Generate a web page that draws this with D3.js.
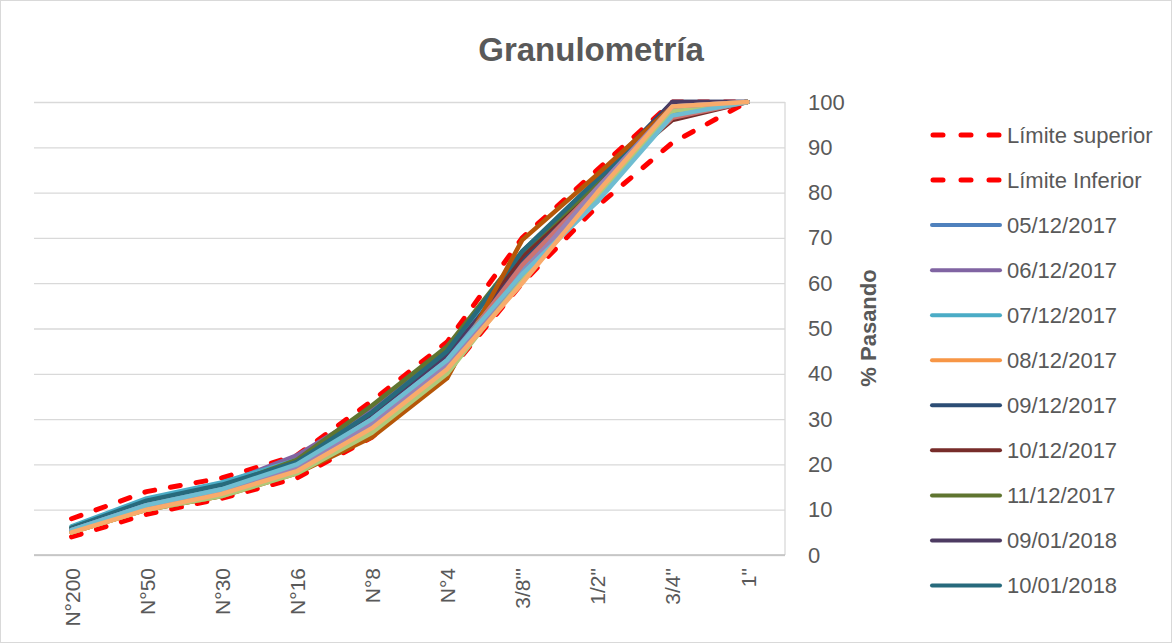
<!DOCTYPE html>
<html><head><meta charset="utf-8">
<script src="https://cdn.jsdelivr.net/npm/d3@7"></script>
<style>
body{margin:0;background:#fff}
svg{display:block}
text{font-family:"Liberation Sans",Arial,sans-serif;fill:#595959}
</style>
</head><body>
<svg id="chart" width="1172" height="643"></svg>
<script>
// ---------- data ----------
const categories = ["N°200","N°50","N°30","N°16","N°8","N°4","3/8\"'","1/2\"","3/4\"","1\""];
const yTicks = [0,10,20,30,40,50,60,70,80,90,100];
const limiteSuperior = [8, 14, 17, 22, 34, 47, 70, 85, 100, 100];
const limiteInferior = [4, 9, 12.5, 17, 26, 40, 60, 77, 91, 100];
const seriesNames = ["05/12/2017","06/12/2017","07/12/2017","08/12/2017","09/12/2017","10/12/2017","11/12/2017","09/01/2018","10/01/2018"];
const s05122017 = [5.5, 11, 14.5, 20, 30, 43, 63, 78, 98, 100];
const s06122017 = [6, 11.5, 15.5, 22, 32, 46, 65, 81, 99, 100];
const s07122017 = [6.3, 12.5, 16, 21, 31, 45, 64, 79, 97, 100];
const s08122017 = [5, 10, 13, 18.5, 27.5, 41, 61, 80, 99, 100];
const s09122017 = [5.5, 11, 14, 19.5, 30, 43, 65, 83, 100, 100];
const s10122017 = [5.5, 11, 14.5, 20, 29, 42, 66, 82, 96, 100];
const s11122017 = [6, 11.5, 15, 21, 33, 46, 67, 82, 99, 100];
const s09012018 = [5.5, 11, 14.5, 20.5, 31, 44, 64, 81, 100, 100];
const s10012018 = [6, 12, 15.5, 20.5, 31.5, 45, 67, 83, 98, 100];
// further series drawn in the plot but cut from the legend
const extra1 = [5, 10, 13, 18, 26, 39, 69.5, 84, 99, 100];
const extra2 = [5.5, 11, 14.5, 19.5, 30, 43, 63, 80, 99, 100];
const extra3 = [5.5, 10.5, 14, 19.5, 29, 42, 64, 81, 96.5, 100];
const extra4 = [5, 10, 13, 18, 27, 40, 61, 79, 98, 100];
const extra5 = [5.5, 11, 14, 19.5, 29, 42, 62, 81, 99, 100];
const extra6 = [5.5, 11, 14.5, 20, 30, 43, 62, 78, 97, 100];
const extra7 = [5, 10, 13.5, 18.5, 28, 41, 60, 80, 99, 100];

// ---------- styles ----------
const legendColors = ["#4F81BD","#8064A2","#4BACC6","#F79646","#2C4D75","#772C2A","#5F7530","#4D3B62","#276A7C"];
const extraColors = ["#B65708","#729ACA","#CD7371","#AFC97A","#9983B5","#6FBDD1","#F9AB6B"];
const limitColor = "#FF0000";

const mainSeries = [s05122017,s06122017,s07122017,s08122017,s09122017,s10122017,s11122017,s09012018,s10012018];
const extraSeries = [extra1,extra2,extra3,extra4,extra5,extra6,extra7];

// ---------- layout ----------
const svg = d3.select("#chart");
const plot = {left:34, right:785, top:102, bottom:555};

svg.append("rect").attr("x",0.5).attr("y",0.5).attr("width",1171).attr("height",642)
  .attr("fill","#fff").attr("stroke","#D9D9D9");

const x = d3.scalePoint().domain(categories).range([plot.left, plot.right]).padding(0.5);
const y = d3.scaleLinear().domain([0,100]).range([plot.bottom, plot.top]);

// gridlines
svg.append("g").attr("transform",`translate(${plot.left},0)`)
  .call(d3.axisLeft(y).tickValues(yTicks).tickSize(-(plot.right-plot.left)).tickFormat(""))
  .call(g=>g.select(".domain").remove())
  .call(g=>g.selectAll("line").attr("stroke","#D9D9D9").attr("stroke-width",1.3));

// right side of plot box
svg.append("line").attr("x1",plot.right).attr("x2",plot.right).attr("y1",plot.top).attr("y2",plot.bottom)
  .attr("stroke","#D9D9D9").attr("stroke-width",1.3);

// right value axis
svg.append("g").attr("transform",`translate(${plot.right},0)`)
  .call(d3.axisRight(y).tickValues(yTicks).tickSize(0).tickPadding(23))
  .call(g=>g.select(".domain").remove())
  .call(g=>g.selectAll("text").attr("font-size",22).attr("fill","#595959")
     .style("font-family","'Liberation Sans',Arial,sans-serif"));

// bottom category axis
const xg = svg.append("g").attr("transform",`translate(0,${plot.bottom})`)
  .call(d3.axisBottom(x).tickSize(0));
xg.select(".domain").attr("stroke","#BFBFBF").attr("stroke-width",1.5)
  .attr("d",`M${plot.left},0H${plot.right}`);
xg.selectAll("text").attr("font-size",21).attr("fill","#595959")
  .style("font-family","'Liberation Sans',Arial,sans-serif")
  .attr("transform","rotate(-90)").attr("text-anchor","end")
  .attr("x",-13).attr("y",0).attr("dy","0.36em");

// lines
const line = d3.line().x((d,i)=>x(categories[i])).y(d=>y(d)).curve(d3.curveLinear);
const lg = svg.append("g");
[limiteSuperior, limiteInferior].forEach(s=>{
  lg.append("path").attr("d",line(s)).attr("fill","none").attr("stroke",limitColor)
    .attr("stroke-width",5).attr("stroke-dasharray","10,16").attr("stroke-linecap","round");
});
mainSeries.forEach((s,i)=>{
  lg.append("path").attr("d",line(s)).attr("fill","none").attr("stroke",legendColors[i])
    .attr("stroke-width",4.5).attr("stroke-linejoin","round").attr("stroke-linecap","round");
});
extraSeries.forEach((s,i)=>{
  lg.append("path").attr("d",line(s)).attr("fill","none").attr("stroke",extraColors[i])
    .attr("stroke-width",4.5).attr("stroke-linejoin","round").attr("stroke-linecap","round");
});

// title
svg.append("text").attr("x",591).attr("y",61).attr("text-anchor","middle")
  .attr("font-size",33).attr("font-weight","bold").text("Granulometría");

// y axis title
svg.append("text").attr("transform","translate(868,328) rotate(-90)").attr("text-anchor","middle")
  .attr("dy","0.36em").attr("font-size",22).attr("font-weight","bold").text("% Pasando");

// legend
const legendItems = [
  {name:"Límite superior", color:limitColor, dashed:true},
  {name:"Límite Inferior", color:limitColor, dashed:true},
  ...seriesNames.map((n,i)=>({name:n, color:legendColors[i], dashed:false}))
];
const leg = svg.append("g");
legendItems.forEach((d,i)=>{
  const yy = 135 + i*45.05;
  const l = leg.append("line").attr("y1",yy).attr("y2",yy).attr("stroke",d.color)
    .attr("stroke-linecap","round");
  if(d.dashed){
    l.attr("x1",933).attr("x2",1000).attr("stroke-width",5).attr("stroke-dasharray","10,18");
  } else {
    l.attr("x1",932).attr("x2",1000).attr("stroke-width",4);
  }
  leg.append("text").attr("x",1007).attr("y",yy).attr("dy","0.35em").attr("font-size",22).text(d.name);
});
</script>
</body></html>
